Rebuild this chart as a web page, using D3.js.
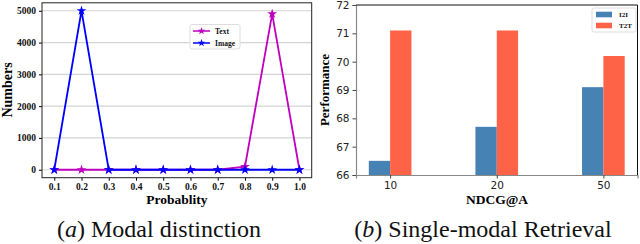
<!DOCTYPE html>
<html>
<head>
<meta charset="utf-8">
<script src="https://cdn.jsdelivr.net/npm/d3@7"></script>
<style>
  html, body { margin: 0; padding: 0; background: #fff; }
  svg { display: block; }
</style>
</head>
<body>
<div id="chart"></div>
<script>
// (a) modal distinction: counts per probability bin
var probs = [0.1, 0.2, 0.3, 0.4, 0.5, 0.6, 0.7, 0.8, 0.9, 1.0];
var textCounts = [0, 0, 0, 0, 0, 0, 0, 100, 4900, 0];
var imageCounts = [0, 5000, 0, 0, 0, 0, 0, 0, 0, 0];
var countTicks = [0, 1000, 2000, 3000, 4000, 5000];

// (b) single-modal retrieval
var ndcgCats = ["10", "20", "50"];
var i2iPerf = [66.5, 67.7, 69.1];
var t2tPerf = [71.1, 71.1, 70.2];
var perfTicks = [66, 67, 68, 69, 70, 71, 72];

(function () {
  var W = 640, H = 244;
  var serif = "'Liberation Serif', 'Times New Roman', serif";
  var sans = "'DejaVu Sans', sans-serif";
  var svg = d3.select("#chart").append("svg")
    .attr("width", W).attr("height", H)
    .attr("viewBox", "0 0 " + W + " " + H);

  // ---------- left panel ----------
  var L = { l: 42, r: 311.7, t: 2.8, b: 177.7 };
  var x = d3.scaleLinear().domain([0.055, 1.045]).range([L.l, L.r]);
  var y = d3.scaleLinear().domain([-250, 5250]).range([L.b, L.t]);
  var gl = svg.append("g");

  // grid
  gl.append("g").selectAll("line").data(countTicks).join("line")
    .attr("x1", L.l).attr("x2", L.r)
    .attr("y1", function (d) { return y(d); }).attr("y2", function (d) { return y(d); })
    .attr("stroke", "#d4d4d4").attr("stroke-width", 1.2);

  gl.append("g").attr("transform", "translate(" + L.l + ",0)")
    .call(d3.axisLeft(y).tickValues(countTicks).tickFormat(d3.format("d"))
      .tickSize(3).tickPadding(3))
    .call(function (g) {
      g.select(".domain").remove();
      g.selectAll("text").attr("font-family", serif).attr("font-weight", "bold")
        .attr("font-size", "9.5px").attr("fill", "#111");
    });
  gl.append("g").attr("transform", "translate(0," + L.b + ")")
    .call(d3.axisBottom(x).tickValues(probs).tickFormat(d3.format(".1f"))
      .tickSize(3).tickPadding(3))
    .call(function (g) {
      g.select(".domain").remove();
      g.selectAll("text").attr("font-family", serif).attr("font-weight", "bold")
        .attr("font-size", "9.5px").attr("fill", "#111");
    });

  var star = d3.symbol().type(d3.symbolStar).size(30);
  function series(vals, color) {
    var pts = probs.map(function (p, i) { return [p, vals[i]]; });
    gl.append("path").datum(pts)
      .attr("fill", "none").attr("stroke", color).attr("stroke-width", 1.8)
      .attr("d", d3.line().x(function (d) { return x(d[0]); }).y(function (d) { return y(d[1]); }));
    gl.append("g").selectAll("path").data(pts).join("path")
      .attr("transform", function (d) { return "translate(" + x(d[0]) + "," + y(d[1]) + ")"; })
      .attr("d", star).attr("fill", color);
  }
  series(textCounts, "#bf00bf");
  series(imageCounts, "#0000ff");

  gl.append("rect").attr("x", L.l).attr("y", L.t)
    .attr("width", L.r - L.l).attr("height", L.b - L.t)
    .attr("fill", "none").attr("stroke", "#222").attr("stroke-width", 1);

  // legend
  var lg = gl.append("g").attr("transform", "translate(190,24.5)");
  lg.append("rect").attr("width", 50).attr("height", 24.5).attr("rx", 2)
    .attr("fill", "#fff").attr("stroke", "#ddd");
  [["Text", "#bf00bf"], ["Image", "#0000ff"]].forEach(function (e, i) {
    var yy = 6.5 + i * 12;
    lg.append("line").attr("x1", 3).attr("x2", 20).attr("y1", yy).attr("y2", yy)
      .attr("stroke", e[1]).attr("stroke-width", 1.5);
    lg.append("path").attr("transform", "translate(11.5," + yy + ")")
      .attr("d", d3.symbol().type(d3.symbolStar).size(18)).attr("fill", e[1]);
    lg.append("text").attr("x", 25).attr("y", yy + 2.6).text(e[0])
      .attr("font-family", serif).attr("font-weight", "bold").attr("font-size", "7.5px").attr("fill", "#111");
  });

  gl.append("text").attr("x", 177).attr("y", 204).attr("text-anchor", "middle")
    .attr("font-family", serif).attr("font-weight", "bold").attr("font-size", "13.5px")
    .text("Probablity");
  gl.append("text").attr("transform", "translate(12,90) rotate(-90)").attr("text-anchor", "middle")
    .attr("font-family", serif).attr("font-weight", "bold").attr("font-size", "14px")
    .text("Numbers");

  // ---------- right panel ----------
  var R = { l: 356, r: 637.5, t: 5, b: 175 };
  var xr = d3.scaleLinear().domain([-0.32, 2.32]).range([R.l, R.r]);
  var yr = d3.scaleLinear().domain([66, 72]).range([R.b, R.t]);
  var bw = xr(0.2) - xr(0);
  var gr = svg.append("g");

  gr.append("g").selectAll("rect").data(i2iPerf).join("rect")
    .attr("x", function (d, i) { return xr(i) - bw; })
    .attr("y", function (d) { return yr(d); })
    .attr("width", bw).attr("height", function (d) { return yr(66) - yr(d); })
    .attr("fill", "#4682b4");
  gr.append("g").selectAll("rect").data(t2tPerf).join("rect")
    .attr("x", function (d, i) { return xr(i); })
    .attr("y", function (d) { return yr(d); })
    .attr("width", bw).attr("height", function (d) { return yr(66) - yr(d); })
    .attr("fill", "#ff6347");

  gr.append("g").attr("transform", "translate(" + R.l + ",0)")
    .call(d3.axisLeft(yr).tickValues(perfTicks).tickFormat(d3.format("d"))
      .tickSize(3.5).tickPadding(3))
    .call(function (g) {
      g.select(".domain").attr("stroke", "#888").attr("stroke-width", 1.2);
      g.selectAll("line").attr("stroke", "#444");
      g.selectAll("text").attr("font-family", sans).attr("font-size", "10.5px").attr("fill", "#222");
    });
  gr.append("g").attr("transform", "translate(0," + R.b + ")")
    .call(d3.axisBottom(xr).tickValues([0, 1, 2]).tickFormat(function (d) { return ndcgCats[d]; })
      .tickSize(3.5).tickPadding(3))
    .call(function (g) {
      g.select(".domain").attr("stroke", "#888").attr("stroke-width", 1.2);
      g.selectAll("line").attr("stroke", "#444");
      g.selectAll("text").attr("font-family", sans).attr("font-size", "10.5px").attr("fill", "#222");
    });
  gr.append("line").attr("x1", R.l).attr("x2", R.r).attr("y1", R.t).attr("y2", R.t)
    .attr("stroke", "#111").attr("stroke-width", 1);
  gr.append("line").attr("x1", R.r).attr("x2", R.r).attr("y1", R.t).attr("y2", R.b)
    .attr("stroke", "#111").attr("stroke-width", 1);

  var lr = gr.append("g").attr("transform", "translate(592,8)");
  lr.append("rect").attr("width", 44).attr("height", 24).attr("rx", 2)
    .attr("fill", "#fff").attr("stroke", "#ddd");
  [["I2I", "#4682b4"], ["T2T", "#ff6347"]].forEach(function (e, i) {
    var yy = 6.5 + i * 11;
    lr.append("rect").attr("x", 4).attr("y", yy - 2.8).attr("width", 16).attr("height", 5.6)
      .attr("fill", e[1]);
    lr.append("text").attr("x", 27).attr("y", yy + 2.4).text(e[0])
      .attr("font-family", serif).attr("font-weight", "bold").attr("font-size", "7px").attr("fill", "#111");
  });

  gr.append("text").attr("x", 497).attr("y", 204).attr("text-anchor", "middle")
    .attr("font-family", serif).attr("font-weight", "bold").attr("font-size", "13.5px")
    .text("NDCG@A");
  gr.append("text").attr("transform", "translate(329,90) rotate(-90)").attr("text-anchor", "middle")
    .attr("font-family", serif).attr("font-weight", "bold").attr("font-size", "13px")
    .text("Performance");

  // ---------- captions ----------
  function caption(cx, letter, rest) {
    var t = svg.append("text").attr("x", cx).attr("y", 237).attr("text-anchor", "middle")
      .attr("font-family", serif).attr("font-size", "24px").attr("fill", "#111");
    t.append("tspan").text("(");
    t.append("tspan").attr("font-style", "italic").text(letter);
    t.append("tspan").text(") " + rest);
  }
  caption(159, "a", "Modal distinction");
  caption(483, "b", "Single-modal Retrieval");
})();
</script>
</body>
</html>
